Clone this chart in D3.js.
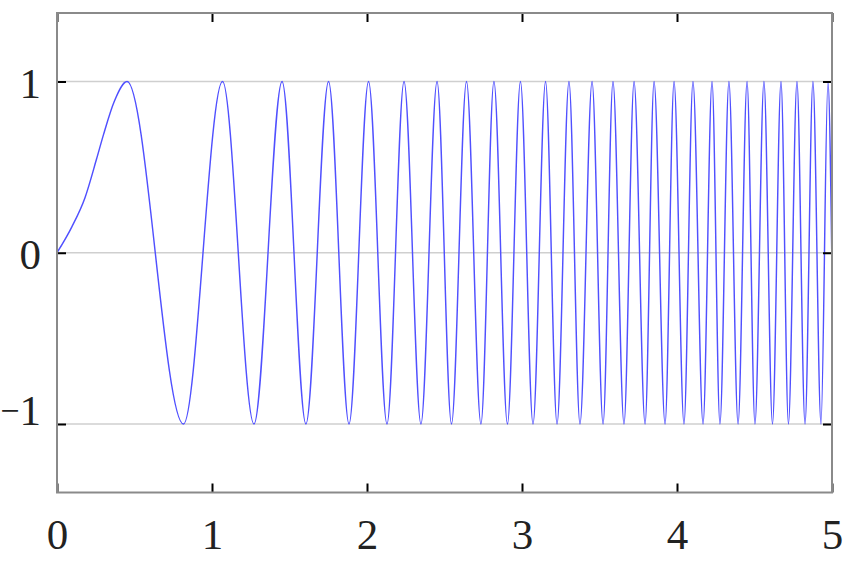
<!DOCTYPE html>
<html>
<head>
<meta charset="utf-8">
<script src="https://cdn.jsdelivr.net/npm/d3@7"></script>
<style>
  html, body { margin: 0; padding: 0; background: #fff; }
  svg { display: block; }
</style>
</head>
<body>
<svg id="chart" width="851" height="562"></svg>
<script>
// ---- data ----
const xTicks = [0, 1, 2, 3, 4, 5];
const yTicks = [-1, 0, 1];
const xDomain = [0, 5];
const yDomain = [-1.4, 1.4];

// start of the curve and its first rise (x, y)
const riseX = [0, 0.095, 0.18, 0.256, 0.30, 0.37];
const riseY = [0, 0.15, 0.32, 0.55, 0.69, 0.885];

// x positions of maxima (y = 1) and minima (y = -1)
const peakX = [0.452, 1.068, 1.452, 1.752, 2.010, 2.239, 2.452, 2.642, 2.819, 2.990,
               3.152, 3.303, 3.452, 3.587, 3.723, 3.852, 3.981, 4.103, 4.226, 4.335,
               4.452, 4.561, 4.671, 4.774, 4.877, 4.974];
const troughX = [0.816, 1.271, 1.606, 1.884, 2.129, 2.348, 2.545, 2.735, 2.906, 3.071,
                 3.226, 3.374, 3.523, 3.658, 3.794, 3.923, 4.045, 4.168, 4.277, 4.394,
                 4.503, 4.616, 4.719, 4.826, 4.929];
// value where the curve meets the right edge
const endPoint = [5, -0.1];

// ---- build point list ----
const pts = [];
riseX.forEach((x, i) => pts.push([x, riseY[i]]));
peakX.forEach(x => pts.push([x, 1]));
troughX.forEach(x => pts.push([x, -1]));
pts.push(endPoint);
pts.sort((a, b) => a[0] - b[0]);

// ---- layout ----
const svg = d3.select("#chart");
const L = 57, R = 832, T = 13, B = 492.5;
const x = d3.scaleLinear().domain(xDomain).range([L, R]);
const y = d3.scaleLinear().domain(yDomain).range([B, T]);

svg.append("defs").append("clipPath").attr("id", "clip")
  .append("rect").attr("x", L).attr("y", T).attr("width", R - L).attr("height", B - T);

// grid lines
svg.append("g").selectAll("line").data(yTicks).join("line")
  .attr("x1", L).attr("x2", R)
  .attr("y1", d => y(d)).attr("y2", d => y(d))
  .attr("stroke", "#cfcfcf").attr("stroke-width", 1.6);

// curve
const line = d3.line().x(d => x(d[0])).y(d => y(d[1])).curve(d3.curveMonotoneX);
svg.append("path").datum(pts)
  .attr("clip-path", "url(#clip)")
  .attr("d", line)
  .attr("fill", "none")
  .attr("stroke", "#5050ff")
  .attr("stroke-width", 1.45);

// axes (ticks inward on all sides)
const tk = 9;
const styleAxis = g => {
  g.attr("font-family", null).attr("font-size", null);
  g.select(".domain").remove();
  g.selectAll(".tick line").attr("stroke", "#000").attr("stroke-width", 2);
};
const styleText = t => t
  .style("font-family", '"Liberation Serif", "DejaVu Serif", serif')
  .style("font-size", "43px").attr("fill", "#222");

svg.append("g").attr("transform", `translate(0,${B})`)
  .call(d3.axisBottom(x).tickValues(xTicks).tickSize(-tk).tickPadding(0).tickFormat(d3.format("d")))
  .call(styleAxis)
  .call(g => g.selectAll("text").attr("y", 549 - B).attr("dy", 0).call(styleText));
svg.append("g").attr("transform", `translate(0,${T})`)
  .call(d3.axisTop(x).tickValues(xTicks).tickSize(-tk).tickFormat(""))
  .call(styleAxis);
svg.append("g").attr("transform", `translate(${L},0)`)
  .call(d3.axisLeft(y).tickValues(yTicks).tickSize(-tk).tickPadding(0).tickFormat(""))
  .call(styleAxis)
  .call(g => g.selectAll(".tick text").each(function(d) {
      const t = d3.select(this).attr("x", 41 - L).attr("dy", 15.5).call(styleText);
      if (d < 0) {
        t.append("tspan").style("font-size", "34px").attr("dy", -3).text("\u2212");
        t.append("tspan").attr("dy", 3).text(String(Math.abs(d)));
      } else {
        t.text(String(d));
      }
    }));
svg.append("g").attr("transform", `translate(${R},0)`)
  .call(d3.axisRight(y).tickValues(yTicks).tickSize(-tk).tickFormat(""))
  .call(styleAxis);

// frame
svg.append("rect").attr("x", L).attr("y", T).attr("width", R - L).attr("height", B - T)
  .attr("fill", "none").attr("stroke", "#8a8a8a").attr("stroke-width", 2);
</script>
</body>
</html>
